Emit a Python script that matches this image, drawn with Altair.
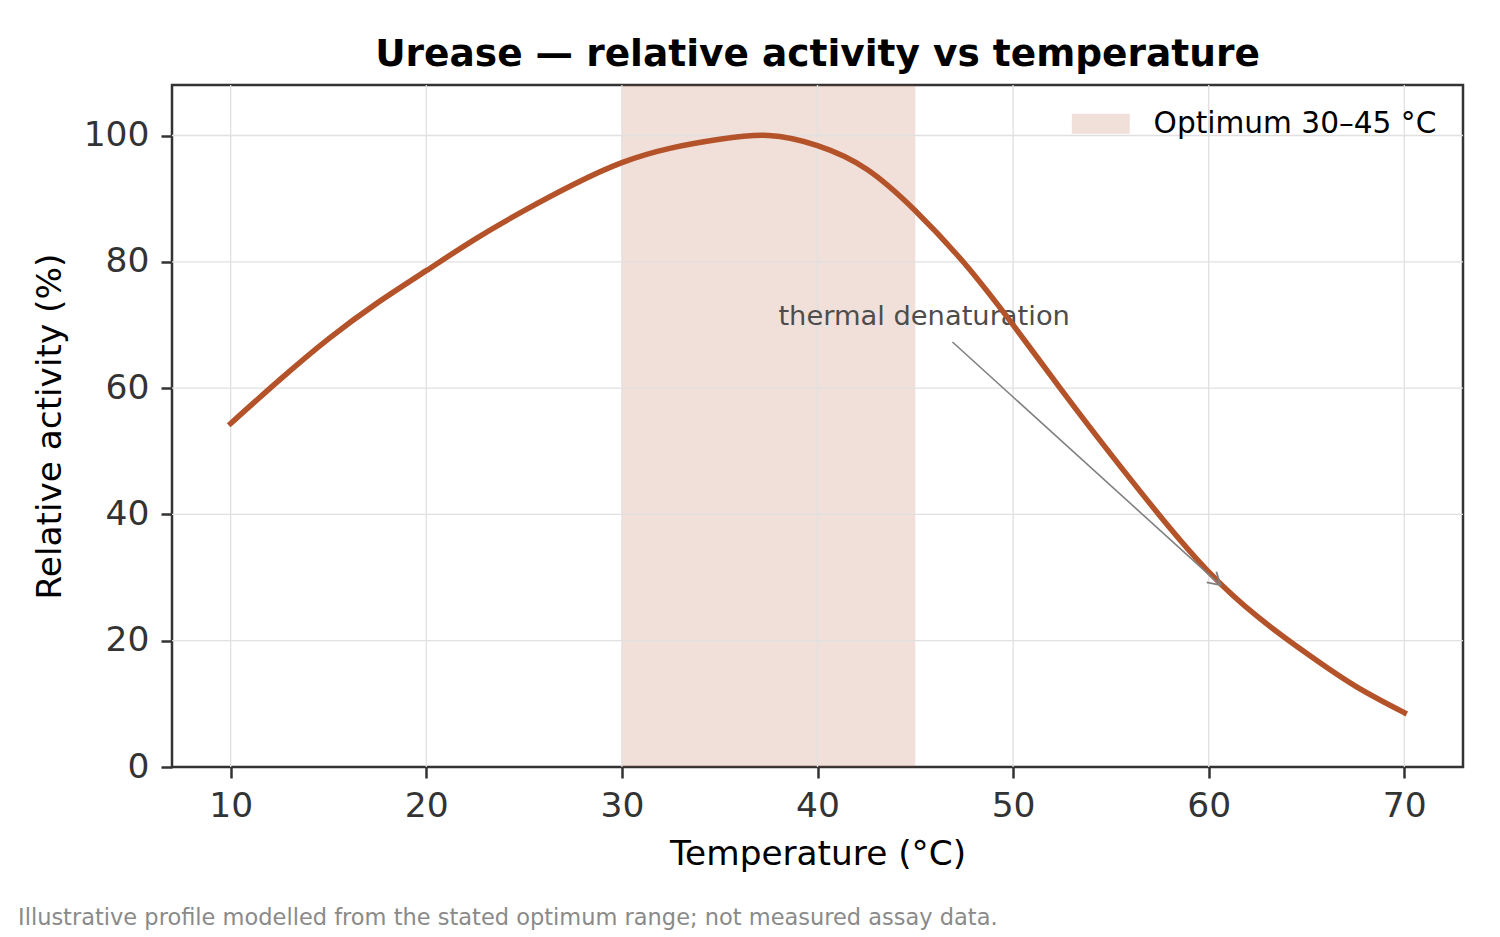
import math

import altair as alt
import pandas as pd

# Relative activity profile (% of maximum) against assay temperature (°C)
temps = [10, 12.5, 15, 17.5, 20, 22.5, 25, 27.5, 30, 32.5, 35, 37.5,
         40, 42.5, 45, 47.5, 50, 52.5, 55, 57.5, 60, 62.5, 65, 67.5, 70]
activity = [54.4, 61.3, 67.8, 73.5, 78.6, 83.6, 88.1, 92.2, 95.7, 98.0, 99.4, 100.0,
            98.4, 94.7, 88.1, 79.8, 70.0, 59.6, 49.5, 39.8, 30.9, 23.8, 18.0, 12.8, 8.6]

# Optimum band
optimum_range = [30, 45]
optimum_label = "Optimum 30–45 °C"

# Annotation
annotation_text = "thermal denaturation"
annotation_xy = [38, 70]
arrow_start = [46.9, 67.3]
arrow_tip = [60.6, 28.8]

x_ticks = [10, 20, 30, 40, 50, 60, 70]
y_ticks = [0, 20, 40, 60, 80, 100]
x_domain = [7, 73]
y_domain = [0, 108]

title_text = "Urease — relative activity vs temperature"
footnote = "Illustrative profile modelled from the stated optimum range; not measured assay data."

FONT = "DejaVu Sans"
LINE_COLOR = "#b4532a"
GRID_COLOR = "#e0e0e0"
W, H = 1291, 682

curve = pd.DataFrame({"temp": temps, "activity": activity})
band = pd.DataFrame({"start": [optimum_range[0]], "end": [optimum_range[1]],
                     "label": [optimum_label]})
arrow = pd.DataFrame({"x": [arrow_start[0]], "y": [arrow_start[1]],
                      "x2": [arrow_tip[0]], "y2": [arrow_tip[1]]})
note = pd.DataFrame({"x": [annotation_xy[0]], "y": [annotation_xy[1]],
                     "text": [annotation_text]})

x_scale = alt.Scale(domain=x_domain, nice=False, zero=False)
y_scale = alt.Scale(domain=y_domain, nice=False, zero=False)

x_axis = alt.Axis(values=x_ticks, title="Temperature (°C)", format="d")
y_axis = alt.Axis(values=y_ticks, title="Relative activity (%)", format="d")

band_layer = alt.Chart(band).mark_rect(opacity=0.18).encode(
    x=alt.X("start:Q", scale=x_scale, axis=x_axis),
    x2="end:Q",
    color=alt.Color(
        "label:N",
        scale=alt.Scale(range=[LINE_COLOR]),
        legend=alt.Legend(
            title=None,
            orient="none",
            legendX=914,
            legendY=24,
            padding=0,
            symbolType="M-2.9,-1H2.9V1H-2.9Z",
            symbolSize=400,
            symbolOpacity=0.18,
            symbolStrokeWidth=0,
            labelOffset=38,
            labelFontSize=29.6,
            labelFont=FONT,
            labelColor="black",
            labelLimit=500,
        ),
    ),
)

# grid lines sit above the shaded band but below the curve;
# lines on the frame edge are left to the frame itself
inner_x = [v for v in x_ticks if x_domain[0] < v < x_domain[1]]
inner_y = [v for v in y_ticks if y_domain[0] < v < y_domain[1]]
grid_x = alt.Chart(pd.DataFrame({"v": inner_x})).mark_rule(
    color=GRID_COLOR, strokeWidth=1.3
).encode(x=alt.X("v:Q", scale=x_scale))
grid_y = alt.Chart(pd.DataFrame({"v": inner_y})).mark_rule(
    color=GRID_COLOR, strokeWidth=1.3
).encode(y=alt.Y("v:Q", scale=y_scale))

note_layer = alt.Chart(note).mark_text(
    align="left", baseline="alphabetic", font=FONT, fontSize=27.3, color="#4d4d4d"
).encode(
    x=alt.X("x:Q", scale=x_scale),
    y=alt.Y("y:Q", scale=y_scale),
    text="text:N",
)

line_layer = alt.Chart(curve).mark_line(
    color=LINE_COLOR, strokeWidth=5.5, interpolate="natural", strokeCap="square"
).encode(
    x=alt.X("temp:Q", scale=x_scale, axis=x_axis),
    y=alt.Y("activity:Q", scale=y_scale, axis=y_axis),
)

arrow_layer = alt.Chart(arrow).mark_rule(color="#808080", strokeWidth=1.6).encode(
    x=alt.X("x:Q", scale=x_scale),
    y=alt.Y("y:Q", scale=y_scale),
    x2="x2:Q",
    y2="y2:Q",
)

# head angle in screen space
dx_px = (arrow_tip[0] - arrow_start[0]) * W / (x_domain[1] - x_domain[0])
dy_px = (arrow_start[1] - arrow_tip[1]) * H / (y_domain[1] - y_domain[0])
head_angle = math.degrees(math.atan2(dy_px, dx_px))

head = pd.DataFrame({"x": [arrow_tip[0]], "y": [arrow_tip[1]]})
head_layer = alt.Chart(head).mark_point(
    shape="M-1,-0.6L0,0L-1,0.6",
    filled=False,
    color="#808080",
    strokeWidth=1.8,
    size=576,
    angle=head_angle,
    opacity=1,
).encode(
    x=alt.X("x:Q", scale=x_scale),
    y=alt.Y("y:Q", scale=y_scale),
)

foot_layer = alt.Chart(pd.DataFrame({"t": [footnote]})).mark_text(
    align="left", baseline="middle", font=FONT, fontSize=22.5, color="#8a8a8a"
).encode(
    x=alt.value(18 - 172),
    y=alt.value(918 - 85),
    text="t:N",
)

chart = alt.layer(
    band_layer, grid_x, grid_y, note_layer, line_layer, arrow_layer, head_layer,
    foot_layer,
).properties(
    width=W,
    height=H,
    title=alt.TitleParams(
        title_text, font=FONT, fontSize=37.5, fontWeight="bold", color="black",
        anchor="middle", offset=11,
    ),
    autosize=alt.AutoSizeParams(type="none"),
    padding={"left": 172, "top": 85, "right": 37, "bottom": 170},
    background="white",
).configure_view(
    stroke="#333333", strokeWidth=2.5
).configure_axis(
    domain=False,
    grid=False,
    tickSize=11,
    tickWidth=2.5,
    tickColor="#333333",
    labelFont=FONT,
    labelFontSize=34.5,
    labelColor="#333333",
    titleFont=FONT,
    titleFontSize=34.3,
    titleFontWeight="normal",
    titleColor="black",
).configure_axisX(
    labelPadding=11, titlePadding=15
).configure_axisY(
    labelPadding=12, titlePadding=16
)

chart.save("out.html", embed_options={"renderer": "svg", "actions": False})
